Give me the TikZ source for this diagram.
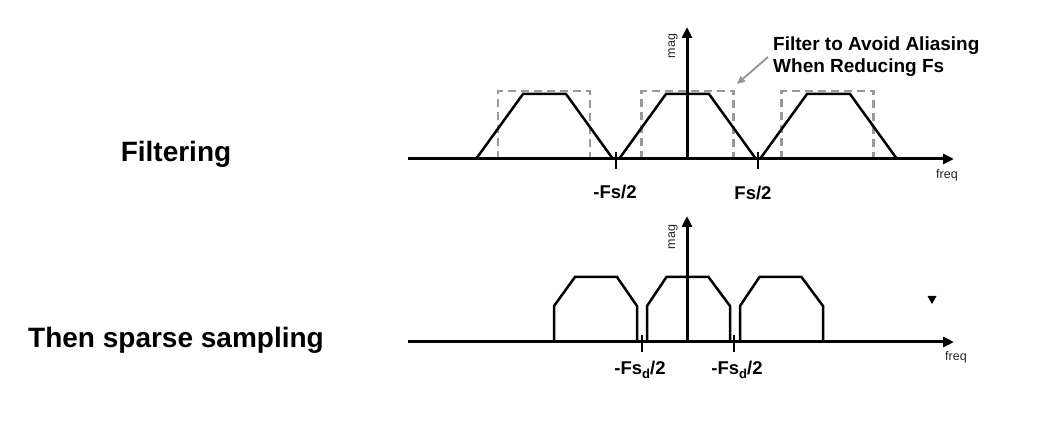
\documentclass[tikz,border=0pt]{standalone}
\usepackage{fontspec}
\setmainfont{Liberation Sans}
\usetikzlibrary{arrows.meta}
\tikzset{
  axisline/.style={line width=3pt,-{Triangle[length=11pt,width=10pt]}},
  tickline/.style={line width=2.8pt},
  specline/.style={line width=2.5pt,line join=miter},
  filterbox/.style={line width=2.2pt,draw=gray!80,dash pattern=on 8pt off 5pt},
  bigtext/.style={font=\fontsize{28}{30}\selectfont\bfseries,inner sep=0pt},
  ticklabel/.style={font=\fontsize{18.5}{20}\selectfont\bfseries,inner sep=0pt},
  smalltext/.style={font=\fontsize{12.5}{13}\selectfont,inner sep=0pt,text=black!85},
  annot/.style={font=\fontsize{19}{22}\selectfont\bfseries,inner sep=0pt,align=left},
}
\newcommand{\subd}{\raisebox{-0.35ex}{\fontsize{13}{13}\selectfont d}}
\begin{document}
\begin{tikzpicture}[x=1pt,y=-1pt]
\useasboundingbox (0,0) rectangle (1037,446);

% left labels
\node[bigtext] (lblF) at (176,154) {Filtering};
\node[bigtext] (lblS) at (176,340) {Then sparse sampling};

% ---------- top panel ----------
\coordinate (tA0) at (408,159);
\coordinate (tA1) at (954,159);
\coordinate (tO) at (687,159);
\coordinate (tV) at (687,27);
% dashed filter boxes
\foreach \c in {544,687.5,827.5}{
  \draw[filterbox] (\c-46,159) -- (\c-46,91) -- (\c+46,91) -- (\c+46,159);
}
% trapezoids
\foreach \c in {544.5,687.5,828.5}{
  \draw[specline] (\c-68.5,159) -- (\c-21.5,94) -- (\c+21.5,94) -- (\c+68.5,159);
}
\draw[axisline] (tA0) -- (tA1);
\draw[axisline] (tO) -- (tV);
\coordinate (tk1a) at (616,152); \coordinate (tk1b) at (616,169);
\coordinate (tk2a) at (758,152); \coordinate (tk2b) at (758,169);
\draw[tickline] (tk1a) -- (tk1b);
\draw[tickline] (tk2a) -- (tk2b);
\node[ticklabel] (tl1) at (615,192) {-Fs/2};
\node[ticklabel] (tl2) at (753,193) {Fs/2};
\node[smalltext] (tfreq) at (947,175) {freq};
\node[smalltext,rotate=90] (tmag) at (673,46) {mag};

% annotation
\node[annot,anchor=west] (ann) at (773,57) {Filter to Avoid Aliasing\\When Reducing Fs};
\coordinate (annS) at (768,57);
\coordinate (annE) at (737,84);
\draw[line width=1.8pt,draw=gray!85,-{Triangle[length=8pt,width=7pt]}] (annS) -- (annE);

% ---------- bottom panel ----------
\coordinate (bA0) at (408,342);
\coordinate (bA1) at (954,342);
\coordinate (bO) at (687,342);
\coordinate (bV) at (687,216);
\foreach \c/\t in {595.5/596,688.5/687.5,781.5/780.5}{
  \draw[specline] (\c-41.5,342) -- (\c-41.5,306) -- (\t-21,277) -- (\t+21,277) -- (\c+41.5,306) -- (\c+41.5,342);
}
\draw[axisline] (bA0) -- (bA1);
\draw[axisline] (bO) -- (bV);
\coordinate (bk1a) at (642,335); \coordinate (bk1b) at (642,352);
\coordinate (bk2a) at (734,335); \coordinate (bk2b) at (734,352);
\draw[tickline] (bk1a) -- (bk1b);
\draw[tickline] (bk2a) -- (bk2b);
\node[ticklabel] (bl1) at (640,370) {-Fs\subd/2};
\node[ticklabel] (bl2) at (737,370) {-Fs\subd/2};
\node[smalltext] (bfreq) at (956,357) {freq};
\node[smalltext,rotate=90] (bmag) at (673,237) {mag};
\fill (927.5,296) -- (936.5,296) -- (932,304) -- cycle;
\end{tikzpicture}
\end{document}
